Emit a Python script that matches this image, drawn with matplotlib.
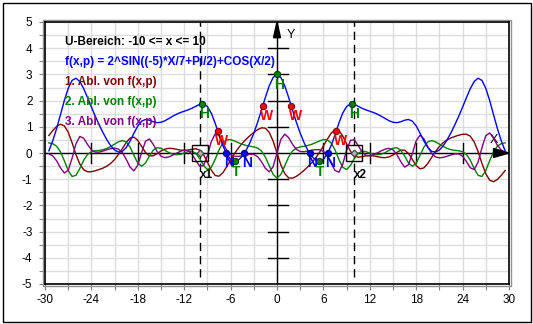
import numpy as np
import matplotlib
matplotlib.use("Agg")
import matplotlib.pyplot as plt
from matplotlib.patches import Polygon, Rectangle

plt.rcParams['font.family'] = ['Liberation Sans', 'DejaVu Sans']

# x-Werte (Schritt 0.5, von -29.5 bis 29.5)
xs = np.arange(-29.5, 29.75, 0.5)

# f(x,p)
f_vals = [0.082, 0.463, 0.932, 1.464, 2.004, 2.469, 2.771, 2.855, 2.730, 2.459,
          2.115, 1.754, 1.405, 1.081, 0.775, 0.504, 0.278, 0.115, 0.036, 0.063,
          0.207, 0.453, 0.753, 1.032, 1.216, 1.279, 1.251, 1.192, 1.158, 1.172,
          1.230, 1.313, 1.401, 1.480, 1.543, 1.594, 1.644, 1.707, 1.784, 1.856,
          1.873, 1.775, 1.523, 1.140, 0.696, 0.281, -0.041, -0.239, -0.311, -0.269,
          -0.127, 0.098, 0.396, 0.758, 1.178, 1.644, 2.125, 2.566, 2.883,
          3.000, 2.883, 2.566, 2.125, 1.644, 1.178, 0.758, 0.396, 0.098, -0.127,
          -0.269, -0.311, -0.239, -0.041, 0.281, 0.696, 1.140, 1.523, 1.775, 1.873,
          1.856, 1.784, 1.707, 1.644, 1.594, 1.543, 1.480, 1.401, 1.313, 1.230,
          1.172, 1.158, 1.192, 1.251, 1.279, 1.216, 1.032, 0.753, 0.453, 0.207,
          0.063, 0.036, 0.115, 0.278, 0.504, 0.775, 1.081, 1.405, 1.754, 2.115,
          2.459, 2.730, 2.855, 2.771, 2.469, 2.004, 1.464, 0.932, 0.463, 0.082]

# 1. Ableitung
f1_vals = [0.668, 0.855, 1.013, 1.095, 1.037, 0.794, 0.394, -0.055, -0.422, -0.639,
           -0.718, -0.715, -0.679, -0.631, -0.576, -0.502, -0.396, -0.250, -0.058, 0.170,
           0.399, 0.569, 0.606, 0.482, 0.247, 0.017, -0.109, -0.107, -0.023, 0.077,
           0.149, 0.178, 0.171, 0.142, 0.112, 0.097, 0.109, 0.141, 0.161, 0.110,
           -0.062, -0.346, -0.652, -0.857, -0.886, -0.753, -0.525, -0.268, -0.024, 0.189,
           0.371, 0.526, 0.662, 0.785, 0.892, 0.961, 0.947, 0.787, 0.455,
           0.000, -0.455, -0.787, -0.947, -0.961, -0.892, -0.785, -0.662, -0.526, -0.371,
           -0.189, 0.024, 0.268, 0.525, 0.753, 0.886, 0.857, 0.652, 0.346, 0.062,
           -0.110, -0.161, -0.141, -0.109, -0.097, -0.112, -0.142, -0.171, -0.178, -0.149,
           -0.077, 0.023, 0.107, 0.109, -0.017, -0.247, -0.482, -0.606, -0.569, -0.399,
           -0.170, 0.058, 0.250, 0.396, 0.502, 0.576, 0.631, 0.679, 0.715, 0.718,
           0.639, 0.422, 0.055, -0.394, -0.794, -1.037, -1.095, -1.013, -0.855, -0.668]

# 2. Ableitung
f2_vals = [0.387, 0.356, 0.260, 0.045, -0.295, -0.668, -0.894, -0.853, -0.592, -0.281,
           -0.056, 0.052, 0.086, 0.100, 0.126, 0.176, 0.249, 0.339, 0.426, 0.473,
           0.423, 0.228, -0.089, -0.391, -0.507, -0.378, -0.116, 0.108, 0.203, 0.181,
           0.102, 0.018, -0.042, -0.066, -0.051, -0.004, 0.051, 0.069, -0.010, -0.213,
           -0.474, -0.632, -0.548, -0.243, 0.120, 0.386, 0.504, 0.510, 0.460, 0.394,
           0.334, 0.289, 0.258, 0.233, 0.188, 0.075, -0.156, -0.493, -0.819,
           -0.957, -0.819, -0.493, -0.156, 0.075, 0.188, 0.233, 0.258, 0.289, 0.334,
           0.394, 0.460, 0.510, 0.504, 0.386, 0.120, -0.243, -0.548, -0.632, -0.474,
           -0.213, -0.010, 0.069, 0.051, -0.004, -0.051, -0.066, -0.042, 0.018, 0.102,
           0.181, 0.203, 0.108, -0.116, -0.378, -0.507, -0.391, -0.089, 0.228, 0.423,
           0.473, 0.426, 0.339, 0.249, 0.176, 0.126, 0.100, 0.086, 0.052, -0.056,
           -0.281, -0.592, -0.853, -0.894, -0.668, -0.295, 0.045, 0.260, 0.356, 0.387]

# 3. Ableitung
f3_vals = [-0.028, -0.108, -0.296, -0.567, -0.764, -0.660, -0.201, 0.348, 0.633, 0.564,
           0.326, 0.123, 0.034, 0.033, 0.074, 0.124, 0.167, 0.186, 0.151, 0.018,
           -0.237, -0.539, -0.680, -0.467, 0.025, 0.450, 0.536, 0.329, 0.056, -0.121,
           -0.177, -0.150, -0.086, -0.008, 0.065, 0.112, 0.092, -0.041, -0.284, -0.506,
           -0.481, -0.099, 0.427, 0.732, 0.666, 0.382, 0.104, -0.062, -0.126, -0.129,
           -0.107, -0.076, -0.050, -0.057, -0.140, -0.333, -0.588, -0.721, -0.519,
           0.000, 0.519, 0.721, 0.588, 0.333, 0.140, 0.057, 0.050, 0.076, 0.107,
           0.129, 0.126, 0.062, -0.104, -0.382, -0.666, -0.732, -0.427, 0.099, 0.481,
           0.506, 0.284, 0.041, -0.092, -0.112, -0.065, 0.008, 0.086, 0.150, 0.177,
           0.121, -0.056, -0.329, -0.536, -0.450, -0.025, 0.467, 0.680, 0.539, 0.237,
           -0.018, -0.151, -0.186, -0.167, -0.124, -0.074, -0.033, -0.034, -0.123, -0.326,
           -0.564, -0.633, -0.348, 0.201, 0.660, 0.764, 0.567, 0.296, 0.108, 0.028]

# besondere Punkte
h_x = [-9.65, 0.0, 9.65]
h_y = [1.877, 3.0, 1.877]
w_x = [-7.67, -1.84, 1.84, 7.67]
w_y = [0.85, 1.80, 1.80, 0.85]
n_x = [-6.56, -4.22, 4.22, 6.56]
n_y = [0.0, 0.0, 0.0, 0.0]
t_x = [-5.44, 5.44]
t_y = [-0.31, -0.31]
grenzen = [-10, 10]
grenz_namen = ["x1", "x2"]

legende = ["U-Bereich: -10 <= x <= 10",
           "f(x,p) = 2^SIN((-5)*X/7+PI/2)+COS(X/2)",
           "1. Abl. von f(x,p)",
           "2. Abl. von f(x,p)",
           "3. Abl. von f(x,p)"]
legende_farben = ["black", "#0000ff", "#800000", "#008000", "#800080"]

fig = plt.figure(figsize=(5.33, 3.24), dpi=100)
fig.patch.set_facecolor("white")
fig.add_artist(Rectangle((2.5 / 533, 2.5 / 324), 528.5 / 533, 318.5 / 324,
                         transform=fig.transFigure, fill=False, ec="black", lw=1))

ax = fig.add_axes([45 / 533, 40 / 324, 464 / 533, 262 / 324])
ax.set_xlim(-30, 30)
ax.set_ylim(-5, 5)

xt = np.arange(-30, 31, 3)
ax.set_xticks(xt)
ax.set_xticklabels([str(v) if v % 6 == 0 else "" for v in xt])
yt = np.arange(-5, 5.01, 0.5)
ax.set_yticks(yt)
ax.set_yticklabels([str(int(v)) if v == int(v) else "" for v in yt])
ax.tick_params(direction="out", length=4, color="#808080", labelsize=8.5)
ax.tick_params(axis="y", pad=5)
ax.tick_params(axis="x", pad=3)
ax.grid(True, color="#dcdcdc", lw=1)
ax.set_axisbelow(True)
for s in ax.spines.values():
    s.set_color("black")
    s.set_linewidth(1.2)
ax.add_patch(Rectangle((-0.004, -0.006), 1.008, 1.012, transform=ax.transAxes,
                       fill=False, ec="#909090", lw=1, clip_on=False))

# Koordinatenachsen
ax.axhline(0, color="black", lw=1, zorder=2)
ax.axvline(0, color="black", lw=1, zorder=2)
for v in [-24, -18, -12, -6, 6, 12, 18, 24]:
    ax.plot([v, v], [-0.38, 0.38], color="black", lw=1, zorder=2)
for v in [-4, -3, -2, -1, 1, 2, 3, 4]:
    ax.plot([-1.2, 1.4], [v, v], color="black", lw=1, zorder=2)
ax.add_patch(Polygon([[0, 5], [-0.45, 4.4], [0.45, 4.4]], closed=True,
                     color="black", zorder=6, clip_on=False))
ax.add_patch(Polygon([[30, 0], [28.0, 0.17], [28.0, -0.17]], closed=True,
                     color="black", zorder=6, clip_on=False))
ax.text(1.2, 4.5, "Y", fontsize=9, va="center", ha="left")
ax.text(28.0, 0.5, "X", fontsize=9, va="center", ha="center")

# Grenzen
for g in grenzen:
    ax.plot([g, g], [-4.75, 5], color="black", lw=1, dashes=(6, 3.5), zorder=3)

# Kurven
ax.plot(xs, f1_vals, color="#800000", lw=1, zorder=4)
ax.plot(xs, f2_vals, color="#008000", lw=1, zorder=4)
ax.plot(xs, f3_vals, color="#800080", lw=1, zorder=4)
ax.plot(xs, f_vals, color="#0000ff", lw=1, zorder=5)

ax.plot(grenzen, [0, 0], "s", ms=11, mfc="none", mec="black", mew=1, zorder=6)
ax.plot(grenzen, [0, 0], "D", ms=3.5, mfc="#b0b0b0", mec="#404040", mew=0.8, zorder=7)
for g, name in zip(grenzen, grenz_namen):
    ax.annotate(name, (g, 0), xytext=(0, -16), textcoords="offset points",
                fontsize=8.5, fontweight="bold", ha="left", va="center")

punkte = [(h_x, h_y, "H", "#008000", "#004000", 1.5),
          (w_x, w_y, "W", "#ff0000", "#800000", 3),
          (n_x, n_y, "N", "#0000ff", "#000080", 2),
          (t_x, t_y, "T", "#008000", "#004000", 1)]
for px, py, lab, fc, ec, dx in punkte:
    ax.plot(px, py, "o", ms=4.5, mfc=fc, mec=ec, mew=0.8, zorder=8)
    for a, b in zip(px, py):
        ax.annotate(lab, (a, b), xytext=(dx, -7.5), textcoords="offset points",
                    fontsize=10, fontweight="bold", color=fc,
                    ha="center", va="center", zorder=9)

for i, (txt, col) in enumerate(zip(legende, legende_farben)):
    ax.text(-27.4, 4.22 - i * 0.763, txt, color=col, fontsize=8.5,
            fontweight="bold", va="center", ha="left", zorder=9)

fig.savefig("out.png", dpi=100)
